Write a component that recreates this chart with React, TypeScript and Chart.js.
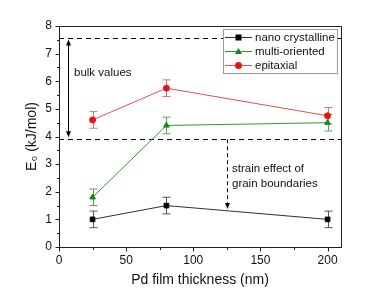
import React, { useEffect, useRef } from 'react';
import { Chart, registerables } from 'chart.js';

Chart.register(...registerables);

const thickness = [25, 80, 200];
const nanoValues = [1.0, 1.5, 1.0];
const nanoErrors = [0.3, 0.3, 0.3];
const multiValues = [1.8, 4.4, 4.5];
const multiErrors = [0.3, 0.3, 0.3];
const epiValues = [4.6, 5.75, 4.75];
const epiErrors = [0.3, 0.3, 0.3];
const seriesNames = ['nano crystalline', 'multi-oriented', 'epitaxial'];
const xTicks = [0, 50, 100, 150, 200];
const xMinorTicks = [25, 75, 125, 175];
const yTicks = [0, 1, 2, 3, 4, 5, 6, 7, 8];
const yMinorTicks = [0.5, 1.5, 2.5, 3.5, 4.5, 5.5, 6.5, 7.5];
const bulkLow = 3.9;
const bulkHigh = 7.58;
const bulkArrowX = 7;
const strainArrowX = 125;
const strainArrowEnd = 1.38;

const FONT = '"Liberation Sans", Arial, sans-serif';

const lineColors = ['#303030', '#2f9a2f', '#e05050'];
const markerColors = ['#000000', '#138a13', '#ee1111'];
const errColors = ['#555555', '#55a855', '#e07070'];
const pointStyles = ['rect', 'triangle', 'circle'];

const overlay = {
  id: 'overlay',
  beforeDatasetsDraw(chart: any) {
    const { ctx, chartArea: ca, scales } = chart;
    const xs = scales.x;
    const ys = scales.y;
    ctx.save();
    ctx.strokeStyle = '#000';
    ctx.lineWidth = 1;
    ctx.setLineDash([5, 4]);
    [bulkHigh, bulkLow].forEach((v) => {
      const y = Math.round(ys.getPixelForValue(v)) + 0.5;
      ctx.beginPath();
      ctx.moveTo(ca.left, y);
      ctx.lineTo(ca.right, y);
      ctx.stroke();
    });
    const sx = Math.round(xs.getPixelForValue(strainArrowX)) + 0.5;
    const sy0 = ys.getPixelForValue(bulkLow);
    const sy1 = ys.getPixelForValue(strainArrowEnd);
    ctx.setLineDash([4, 3]);
    ctx.beginPath();
    ctx.moveTo(sx, sy0);
    ctx.lineTo(sx, sy1 - 4);
    ctx.stroke();
    ctx.setLineDash([]);
    ctx.fillStyle = '#000';
    ctx.beginPath();
    ctx.moveTo(sx, sy1);
    ctx.lineTo(sx - 2.5, sy1 - 6);
    ctx.lineTo(sx + 2.5, sy1 - 6);
    ctx.closePath();
    ctx.fill();
    const bx = Math.round(xs.getPixelForValue(bulkArrowX)) + 0.5;
    const by0 = ys.getPixelForValue(bulkHigh) + 2;
    const by1 = ys.getPixelForValue(bulkLow) - 2;
    ctx.beginPath();
    ctx.moveTo(bx, by0 + 4);
    ctx.lineTo(bx, by1 - 4);
    ctx.stroke();
    ctx.beginPath();
    ctx.moveTo(bx, by0);
    ctx.lineTo(bx - 2.5, by0 + 6);
    ctx.lineTo(bx + 2.5, by0 + 6);
    ctx.closePath();
    ctx.fill();
    ctx.beginPath();
    ctx.moveTo(bx, by1);
    ctx.lineTo(bx - 2.5, by1 - 6);
    ctx.lineTo(bx + 2.5, by1 - 6);
    ctx.closePath();
    ctx.fill();
    ctx.font = '11.5px ' + FONT;
    ctx.fillStyle = '#111';
    ctx.textBaseline = 'alphabetic';
    ctx.textAlign = 'left';
    ctx.fillText('bulk values', 74, 76);
    ctx.fillText('strain effect of', 232, 172);
    ctx.fillText('grain boundaries', 232, 187);
    const errs = [nanoErrors, multiErrors, epiErrors];
    const vals = [nanoValues, multiValues, epiValues];
    errs.forEach((errArr, i) => {
      ctx.strokeStyle = errColors[i];
      ctx.lineWidth = 1;
      thickness.forEach((t, j) => {
        const x = Math.round(xs.getPixelForValue(t)) + 0.5;
        const yt = ys.getPixelForValue(vals[i][j] + errArr[j]);
        const yb = ys.getPixelForValue(vals[i][j] - errArr[j]);
        ctx.beginPath();
        ctx.moveTo(x, yt);
        ctx.lineTo(x, yb);
        ctx.moveTo(x - 4, yt);
        ctx.lineTo(x + 4, yt);
        ctx.moveTo(x - 4, yb);
        ctx.lineTo(x + 4, yb);
        ctx.stroke();
      });
    });
    ctx.restore();
  },
  afterDraw(chart: any) {
    const { ctx, chartArea: ca, scales } = chart;
    const xs = scales.x;
    const ys = scales.y;
    ctx.save();
    ctx.strokeStyle = '#222';
    ctx.lineWidth = 1;
    ctx.setLineDash([]);
    const L = Math.round(ca.left) + 0.5;
    const R = Math.round(ca.right) + 0.5;
    const T = Math.round(ca.top) + 0.5;
    const B = Math.round(ca.bottom) + 0.5;
    ctx.strokeRect(L, T, R - L, B - T);
    ctx.beginPath();
    xTicks.forEach((v) => {
      const x = Math.round(xs.getPixelForValue(v)) + 0.5;
      ctx.moveTo(x, B);
      ctx.lineTo(x, B + 4);
    });
    xMinorTicks.forEach((v) => {
      const x = Math.round(xs.getPixelForValue(v)) + 0.5;
      ctx.moveTo(x, B);
      ctx.lineTo(x, B + 2.5);
    });
    yTicks.forEach((v) => {
      const y = Math.round(ys.getPixelForValue(v)) + 0.5;
      ctx.moveTo(L, y);
      ctx.lineTo(L - 4, y);
    });
    yMinorTicks.forEach((v) => {
      const y = Math.round(ys.getPixelForValue(v)) + 0.5;
      ctx.moveTo(L, y);
      ctx.lineTo(L - 2.5, y);
    });
    ctx.stroke();
    const lx = 223.5, ly = 29.5, lw = 114, lh = 44;
    ctx.fillStyle = '#fff';
    ctx.fillRect(lx, ly, lw, lh);
    ctx.strokeStyle = '#999';
    ctx.strokeRect(lx, ly, lw, lh);
    ctx.font = '11.5px ' + FONT;
    ctx.textBaseline = 'middle';
    ctx.textAlign = 'left';
    seriesNames.forEach((name, i) => {
      const y = 37 + i * 14;
      ctx.strokeStyle = lineColors[i];
      ctx.beginPath();
      ctx.moveTo(225, y + 0.5);
      ctx.lineTo(252, y + 0.5);
      ctx.stroke();
      ctx.fillStyle = markerColors[i];
      const cx = 238.5;
      if (i === 0) {
        ctx.fillRect(cx - 3, y - 2.5, 6, 6);
      } else if (i === 1) {
        ctx.beginPath();
        ctx.moveTo(cx, y - 3);
        ctx.lineTo(cx - 3.5, y + 3);
        ctx.lineTo(cx + 3.5, y + 3);
        ctx.closePath();
        ctx.fill();
      } else {
        ctx.beginPath();
        ctx.arc(cx, y + 0.5, 3.5, 0, Math.PI * 2);
        ctx.fill();
      }
      ctx.fillStyle = '#111';
      ctx.fillText(name, 255, y + 1);
    });
    ctx.restore();
  },
};

export default function App() {
  const ref = useRef<HTMLCanvasElement>(null);
  useEffect(() => {
    if (!ref.current) return;
    const allVals = [nanoValues, multiValues, epiValues];
    const chart = new Chart(ref.current, {
      type: 'line',
      data: {
        datasets: allVals.map((vals, i) => ({
          label: seriesNames[i],
          data: thickness.map((t, j) => ({ x: t, y: vals[j] })),
          borderColor: lineColors[i],
          backgroundColor: markerColors[i],
          pointBackgroundColor: markerColors[i],
          pointBorderColor: markerColors[i],
          pointStyle: pointStyles[i] as any,
          pointRadius: i === 2 ? 3 : 3.3,
          pointBorderWidth: 1,
          borderWidth: 1,
          tension: 0,
        })),
      },
      options: {
        responsive: false,
        animation: false,
        devicePixelRatio: 1,
        layout: { padding: { left: 0, right: 38, top: 26, bottom: 0 } },
        plugins: { legend: { display: false }, tooltip: { enabled: false } },
        scales: {
          x: {
            type: 'linear',
            min: 0,
            max: 210,
            afterBuildTicks: (s: any) => {
              s.ticks = xTicks.map((v) => ({ value: v }));
            },
            afterFit: (s: any) => {
              s.height = 52;
            },
            grid: { display: false, drawTicks: false },
            border: { display: false },
            ticks: { padding: 6, color: '#111', font: { family: FONT, size: 12 } },
            title: {
              display: true,
              text: 'Pd film thickness (nm)',
              color: '#111',
              font: { family: FONT, size: 14 },
              padding: { top: 0, bottom: 10 },
            },
          },
          y: {
            type: 'linear',
            min: 0,
            max: 8,
            afterBuildTicks: (s: any) => {
              s.ticks = yTicks.map((v) => ({ value: v }));
            },
            afterFit: (s: any) => {
              s.width = 59;
            },
            grid: { display: false, drawTicks: false },
            border: { display: false },
            ticks: { padding: 7, color: '#111', font: { family: FONT, size: 12 } },
            title: {
              display: true,
              text: 'E\u2080 (kJ/mol)',
              color: '#111',
              font: { family: FONT, size: 14 },
              padding: { top: 24, bottom: 0 },
            },
          },
        },
      },
      plugins: [overlay],
    });
    return () => chart.destroy();
  }, []);
  return (
    <div style={{ position: 'fixed', left: 0, top: 0, width: 379, height: 299, background: '#fff' }}>
      <canvas ref={ref} width={379} height={299} />
    </div>
  );
}
